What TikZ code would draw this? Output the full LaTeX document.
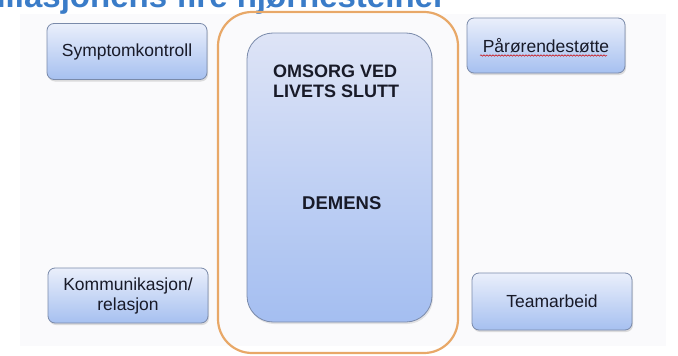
\documentclass[tikz,border=0pt]{standalone}
\usepackage{fontspec}
\setmainfont{Liberation Sans}
\usetikzlibrary{shadows,decorations.pathmorphing}

\definecolor{titleblue}{RGB}{58,124,200}
\definecolor{boxtop}{RGB}{234,239,251}
\definecolor{boxbottom}{RGB}{166,192,240}
\definecolor{boxedge}{RGB}{122,138,170}
\definecolor{coretop}{RGB}{222,228,246}
\definecolor{corebottom}{RGB}{164,190,241}
\definecolor{frameorange}{RGB}{232,168,104}
\definecolor{textdark}{RGB}{24,26,40}
\definecolor{slidegray}{RGB}{250,250,252}

\tikzset{
  sidebox/.style={draw=boxedge, line width=0.8pt, rounded corners=7pt,
    top color=boxtop, bottom color=boxbottom,
    minimum width=160pt, minimum height=56pt, align=center,
    font=\fontsize{17.5}{20}\selectfont, text=textdark,
    drop shadow={opacity=0.25, shadow xshift=1pt, shadow yshift=-2pt}},
  corebox/.style={draw=boxedge, line width=0.8pt, rounded corners=26pt,
    top color=coretop, bottom color=corebottom,
    minimum width=185pt, minimum height=289pt,
    drop shadow={opacity=0.2, shadow xshift=1pt, shadow yshift=-2pt}},
  framebox/.style={draw=frameorange, line width=2.2pt, rounded corners=34pt,
    minimum width=240pt, minimum height=341pt},
  corelabel/.style={anchor=base west, inner sep=0pt, align=left,
    font=\bfseries\fontsize{18}{20}\selectfont, text=textdark},
}

\begin{document}
\begin{tikzpicture}[x=1pt,y=-1pt]
\useasboundingbox (0,0) rectangle (678,356);
\clip (0,0) rectangle (678,356);
\fill[white] (0,0) rectangle (678,356);
\fill[slidegray] (20,14) rectangle (666,346);

% heading, mostly above the top edge
\node[anchor=base west, inner sep=0pt, text=titleblue,
      font=\bfseries\fontsize{33}{36}\selectfont] (title) at (-44,7.5)
      {Palliasjonens fire hjørnesteiner};

% centre: orange frame around the core box
\node[framebox] (frame) at (338,182.5) {};
\node[corebox] (core) at (339.5,177.5) {};
\node[corelabel] (omsorg) at (273,97) {OMSORG VED\\LIVETS SLUTT};
\node[corelabel, font=\bfseries\fontsize{18.5}{20}\selectfont] (demens) at (302,209) {DEMENS};

% the four corner boxes
\node[sidebox] (sym)  at (127,51.5)  {Symptomkontroll};
\node[sidebox, minimum width=158pt, minimum height=55pt] (par) at (546,45.5) {Pårørendestøtte};
\node[sidebox, minimum height=55pt] (kom)  at (128,295.5) {Kommunikasjon/\\relasjon};
\node[sidebox, minimum height=57pt] (team) at (552,301.5) {Teamarbeid};

% spell-check squiggle under the relatives' label
\coordinate (ulA) at (480,55.5);
\coordinate (ulB) at (607,55.5);
\draw[red!80!black, line width=0.5pt, decorate,
      decoration={snake, segment length=3pt, amplitude=0.7pt}] (ulA) -- (ulB);
\end{tikzpicture}
\end{document}
